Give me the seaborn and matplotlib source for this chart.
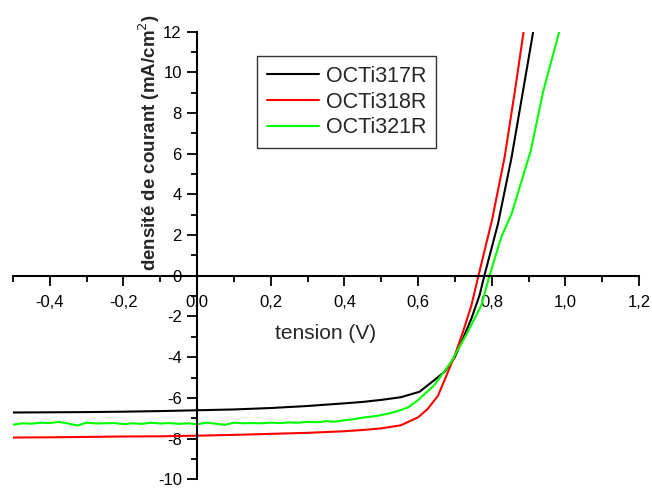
import numpy as np
import pandas as pd
import seaborn as sns
import matplotlib.pyplot as plt
from matplotlib.ticker import MultipleLocator, FuncFormatter

# Courbes J-V
x_317 = [-0.5, -0.4, -0.3, -0.2, -0.1, 0.0, 0.1, 0.2, 0.3, 0.4, 0.45, 0.5, 0.553, 0.604,
         0.644, 0.672, 0.70, 0.722, 0.745, 0.767, 0.78, 0.817, 0.854, 0.885, 0.913, 0.93]
j_317 = [-6.72, -6.71, -6.70, -6.68, -6.65, -6.61, -6.57, -6.50, -6.40, -6.27, -6.20, -6.10, -5.97, -5.70,
         -5.13, -4.72, -3.99, -3.09, -2.10, -0.96, 0.0, 2.55, 5.82, 9.08, 12.03, 13.6]

x_318 = [-0.5, -0.4, -0.3, -0.2, -0.1, 0.0, 0.1, 0.2, 0.3, 0.4, 0.45, 0.5, 0.553, 0.6,
         0.626, 0.654, 0.672, 0.70, 0.722, 0.745, 0.764, 0.801, 0.835, 0.863, 0.887, 0.90]
j_318 = [-7.95, -7.94, -7.92, -7.90, -7.89, -7.86, -7.82, -7.77, -7.72, -7.64, -7.58, -7.50, -7.35, -6.96,
         -6.55, -5.90, -5.13, -3.90, -2.76, -1.45, 0.0, 2.75, 5.82, 9.08, 12.03, 13.4]

x_321 = [-0.5, -0.475, -0.45, -0.425, -0.4, -0.375, -0.35, -0.325, -0.3, -0.275, -0.25, -0.225,
         -0.2, -0.175, -0.15, -0.125, -0.1, -0.075, -0.05, -0.025, 0.0, 0.025, 0.05, 0.075,
         0.1, 0.125, 0.15, 0.175, 0.2, 0.225, 0.25, 0.275, 0.3, 0.325, 0.35, 0.375,
         0.4, 0.425, 0.45, 0.475, 0.5, 0.525, 0.553, 0.575, 0.6, 0.644, 0.69, 0.735,
         0.772, 0.794, 0.826, 0.854, 0.906, 0.94, 0.984, 1.0]
j_321 = [-7.32, -7.25, -7.27, -7.22, -7.24, -7.18, -7.26, -7.36, -7.22, -7.26, -7.25, -7.24,
         -7.29, -7.25, -7.28, -7.22, -7.26, -7.24, -7.28, -7.25, -7.30, -7.22, -7.27, -7.33,
         -7.22, -7.25, -7.24, -7.25, -7.22, -7.24, -7.21, -7.22, -7.18, -7.20, -7.15, -7.17,
         -7.10, -7.05, -6.97, -6.92, -6.85, -6.75, -6.60, -6.45, -6.11, -5.38, -4.23, -2.76,
         -1.45, 0.0, 1.90, 3.04, 6.14, 9.08, 12.03, 13.0]

noms = ["OCTi317R", "OCTi318R", "OCTi321R"]
couleurs = ["#000000", "#FF0000", "#00FF00"]

df = pd.concat([
    pd.DataFrame({"V": x_317, "J": j_317, "ech": noms[0]}),
    pd.DataFrame({"V": x_318, "J": j_318, "ech": noms[1]}),
    pd.DataFrame({"V": x_321, "J": j_321, "ech": noms[2]}),
])

sns.set_theme(style="ticks")
plt.rcParams["font.family"] = ["Liberation Sans", "DejaVu Sans"]

fig = plt.figure(figsize=(6.52, 4.88), dpi=100)
ax = fig.add_axes([0.020, 0.018, 0.960, 0.917])

sns.lineplot(data=df, x="V", y="J", hue="ech", palette=couleurs, hue_order=noms,
             estimator=None, sort=False, linewidth=1.5, ax=ax)

ax.set_xlim(-0.5, 1.2)
ax.set_ylim(-10, 12)

# axes qui se croisent à l'origine (style Origin)
ax.spines["left"].set_position(("data", 0))
ax.spines["bottom"].set_position(("data", 0))
ax.spines["right"].set_visible(False)
ax.spines["top"].set_visible(False)
for s in ["left", "bottom"]:
    ax.spines[s].set_linewidth(1.5)
    ax.spines[s].set_color("black")

ax.xaxis.set_major_locator(MultipleLocator(0.2))
ax.xaxis.set_minor_locator(MultipleLocator(0.1))
ax.yaxis.set_major_locator(MultipleLocator(2))
ax.yaxis.set_minor_locator(MultipleLocator(1))
ax.xaxis.set_major_formatter(FuncFormatter(lambda v, p: f"{v:.1f}".replace(".", ",").replace("-0,0", "0,0")))
ax.yaxis.set_major_formatter(FuncFormatter(lambda v, p: f"{v:.0f}"))
ax.tick_params(which="major", direction="out", length=7, width=1.3, labelsize=12, colors="black", pad=4)
ax.tick_params(which="minor", direction="out", length=4, width=1.3, colors="black")
ax.tick_params(axis="x", which="major", pad=7)

ax.set_xlabel("")
ax.set_ylabel("")
ax.text(0.50, 0.325, "tension (V)", transform=ax.transAxes, fontsize=15,
        ha="center", va="center")
ax.text(0.217, 0.752, "densité de courant (mA/cm$^2$)", transform=ax.transAxes, fontsize=13.5,
        fontweight="bold", rotation=90, ha="center", va="center")

leg = ax.legend(loc="upper left", bbox_to_anchor=(0.390, 0.945), fontsize=15.5, frameon=True,
                fancybox=False, edgecolor="black", handlelength=2.4, labelspacing=0.22,
                borderpad=0.45, handletextpad=0.35, borderaxespad=0)
leg.get_frame().set_linewidth(1.0)

plt.savefig("out.png", dpi=100)
